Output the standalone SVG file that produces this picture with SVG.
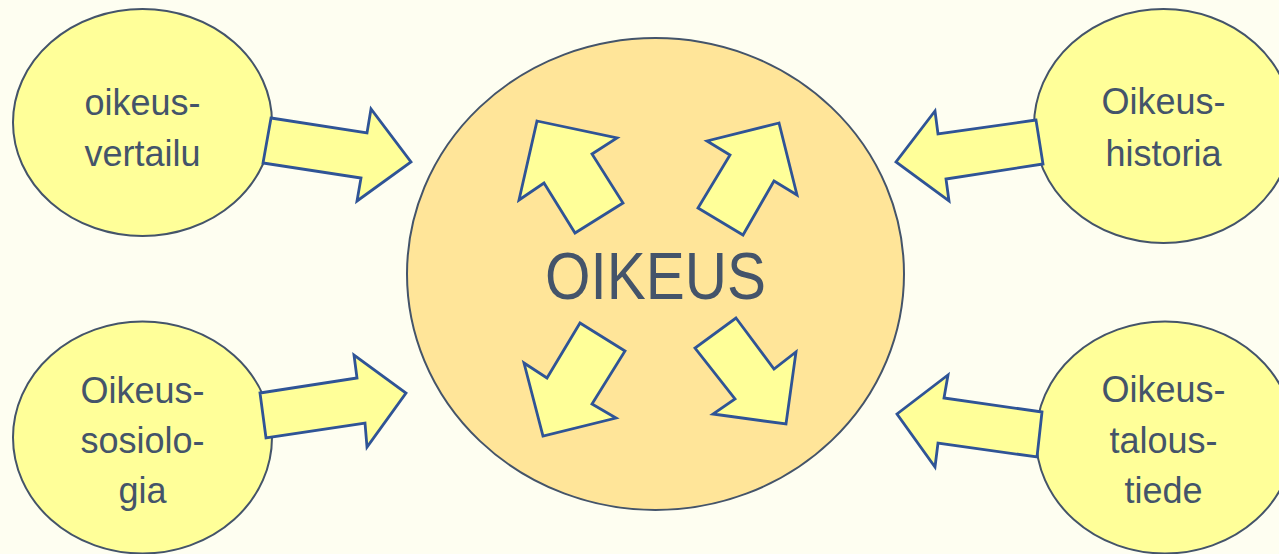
<svg xmlns="http://www.w3.org/2000/svg" width="1279" height="554" viewBox="0 0 1279 554">
<style>
.bg{fill:#FEFEF1}
.sat{fill:#FFFF99;stroke:#44546A;stroke-width:2}
.core{fill:#FFE599;stroke:#44546A;stroke-width:2}
.arr{fill:#FFFF99;stroke:#2F5496;stroke-width:2.8;stroke-linejoin:miter}
.t{font-family:"Liberation Sans",Arial,sans-serif;font-size:36px;fill:#44546A;text-anchor:middle}
.big{font-family:"Liberation Sans",Arial,sans-serif;font-size:66px;fill:#44546A;text-anchor:middle}
</style>
<rect class="bg" x="0" y="0" width="1279" height="554"/>
<g id="oikeus">
<ellipse class="core" cx="655.5" cy="274" rx="248.5" ry="236"/>
<text class="big" x="655.5" y="299" textLength="221" lengthAdjust="spacingAndGlyphs">OIKEUS</text>
</g>
<g id="vertailu">
<ellipse class="sat" cx="142.5" cy="122.5" rx="129.5" ry="113.5"/>
<text class="t" x="142.5" y="115">oikeus-</text>
<text class="t" x="142.5" y="166">vertailu</text>
</g>
<g id="sosiologia">
<ellipse class="sat" cx="142.5" cy="437.5" rx="129.5" ry="116"/>
<text class="t" x="142.5" y="403">Oikeus-</text>
<text class="t" x="142.5" y="453">sosiolo-</text>
<text class="t" x="142.5" y="503">gia</text>
</g>
<g id="historia">
<ellipse class="sat" cx="1163.5" cy="126" rx="129.5" ry="117"/>
<text class="t" x="1163.5" y="114">Oikeus-</text>
<text class="t" x="1163.5" y="166">historia</text>
</g>
<g id="taloustiede">
<ellipse class="sat" cx="1165" cy="437.5" rx="129" ry="116"/>
<text class="t" x="1163.5" y="402">Oikeus-</text>
<text class="t" x="1163.5" y="453">talous-</text>
<text class="t" x="1163.5" y="503">tiede</text>
</g>
<g id="connectors">
<polygon class="arr" points="271,118 367,133 371,109 411,162 357,201 361,178 263,163"/>
<polygon class="arr" points="260,393 357,378 354,355 406,393 367,447 365,423 266,438"/>
<polygon class="arr" points="1036,120 938,134 935,111 896,162 949,201 946,179 1043,164"/>
<polygon class="arr" points="1042,412 944,398 948,375 897,414 935,467 938,443 1037,457"/>
<polygon class="arr" points="537,121 617,138 592,154 623,203 575,233 544,183 519,200"/>
<polygon class="arr" points="779,123 707,141 730,155 698,208 743,235 774,181 797,195"/>
<polygon class="arr" points="580,323 625,351 592,404 616,418 543,436 524,363 547,378"/>
<polygon class="arr" points="736,318 774,369 796,352 786,424 713,414 735,399 695,348"/>
</g>
</svg>
